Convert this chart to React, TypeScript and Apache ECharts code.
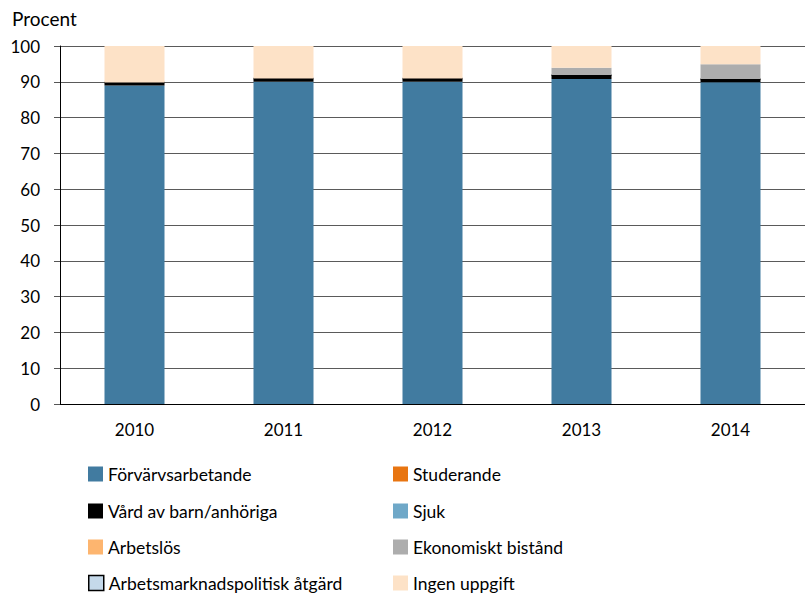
import React, { useEffect, useRef } from "react";
import * as echarts from "echarts";

const years = ["2010", "2011", "2012", "2013", "2014"];
const forvarvsarbetande = [89.0, 90.0, 90.0, 90.8, 89.9];
const studerande = [0, 0, 0, 0, 0];
const vardAvBarn = [0.8, 0.9, 0.9, 1.1, 0.9];
const sjuk = [0, 0, 0, 0, 0];
const arbetslos = [0, 0, 0, 0, 0];
const ekonomisktBistand = [0, 0, 0, 2.0, 4.1];
const amAtgard = [0, 0, 0, 0, 0];
const ingenUppgift = [10.2, 9.1, 9.1, 6.1, 5.1];
const yTicks = [0, 10, 20, 30, 40, 50, 60, 70, 80, 90, 100];

const FONT = "Lato";

export default function App() {
  const ref = useRef<HTMLDivElement>(null);
  useEffect(() => {
    if (!ref.current) return;
    const chart = echarts.init(ref.current, undefined, { renderer: "svg" });
    const mk = (name: string, data: number[], color: string, extra: any = {}) => ({
      name,
      type: "bar",
      stack: "total",
      data,
      barWidth: 60,
      itemStyle: { color, ...extra },
      emphasis: { disabled: true },
    });
    const series = [
      mk("Förvärvsarbetande", forvarvsarbetande, "#417ba0"),
      mk("Vård av barn/anhöriga", vardAvBarn, "#000000"),
      mk("Arbetslös", arbetslos, "#fdb56f"),
      mk("Arbetsmarknadspolitisk åtgärd", amAtgard, "#c5d9ea", { borderColor: "#000", borderWidth: 1.5 }),
      mk("Studerande", studerande, "#e87511"),
      mk("Sjuk", sjuk, "#6fa8c8"),
      mk("Ekonomiskt bistånd", ekonomisktBistand, "#adadad"),
      mk("Ingen uppgift", ingenUppgift, "#fde2c7"),
    ];
    const legendItem = (name: string, left: number, centerY: number, extra: any = {}) => ({
      orient: "horizontal",
      left,
      top: centerY - 10,
      height: 20,
      padding: 0,
      itemWidth: 15,
      itemHeight: 15,
      itemGap: 7,
      icon: "rect",
      textStyle: { fontFamily: FONT, fontSize: 17.5, color: "#000", lineHeight: 20, padding: [0, 0, 0, 0] },
      selectedMode: false,
      data: [{ name, ...extra }],
    });
    const rows = [474, 511, 547, 583];
    chart.setOption({
      animation: false,
      textStyle: { fontFamily: FONT },
      title: {
        text: "Procent",
        left: 12,
        top: 9,
        padding: 0,
        textStyle: { fontFamily: FONT, fontSize: 19, fontWeight: "normal", color: "#000" },
      },
      grid: { left: 60, top: 46, height: 358, width: 755 },
      legend: [
        legendItem("Förvärvsarbetande", 88, rows[0]),
        legendItem("Vård av barn/anhöriga", 88, rows[1]),
        legendItem("Arbetslös", 88, rows[2]),
        legendItem("Arbetsmarknadspolitisk åtgärd", 88, rows[3], {
          itemStyle: { borderColor: "#000", borderWidth: 1.5 },
        }),
        legendItem("Studerande", 393, rows[0]),
        legendItem("Sjuk", 393, rows[1]),
        legendItem("Ekonomiskt bistånd", 393, rows[2]),
        legendItem("Ingen uppgift", 393, rows[3]),
      ],
      xAxis: {
        type: "category",
        data: years,
        axisLine: { lineStyle: { color: "#000", width: 1 } },
        axisTick: { show: false },
        axisLabel: { fontFamily: FONT, fontSize: 17, color: "#000", margin: 17 },
      },
      yAxis: {
        type: "value",
        min: yTicks[0],
        max: yTicks[yTicks.length - 1],
        interval: 10,
        axisLine: { show: true, lineStyle: { color: "#000", width: 1 } },
        axisTick: { show: true, length: 6, lineStyle: { color: "#555" } },
        axisLabel: { fontFamily: FONT, fontSize: 17, color: "#000", margin: 20 },
        splitLine: { lineStyle: { color: "#5a5a5a", width: 1.2 } },
      },
      series,
    });
    return () => chart.dispose();
  }, []);
  return <div ref={ref} style={{ width: 805, height: 598, position: "absolute", left: 0, top: 0 }} />;
}
